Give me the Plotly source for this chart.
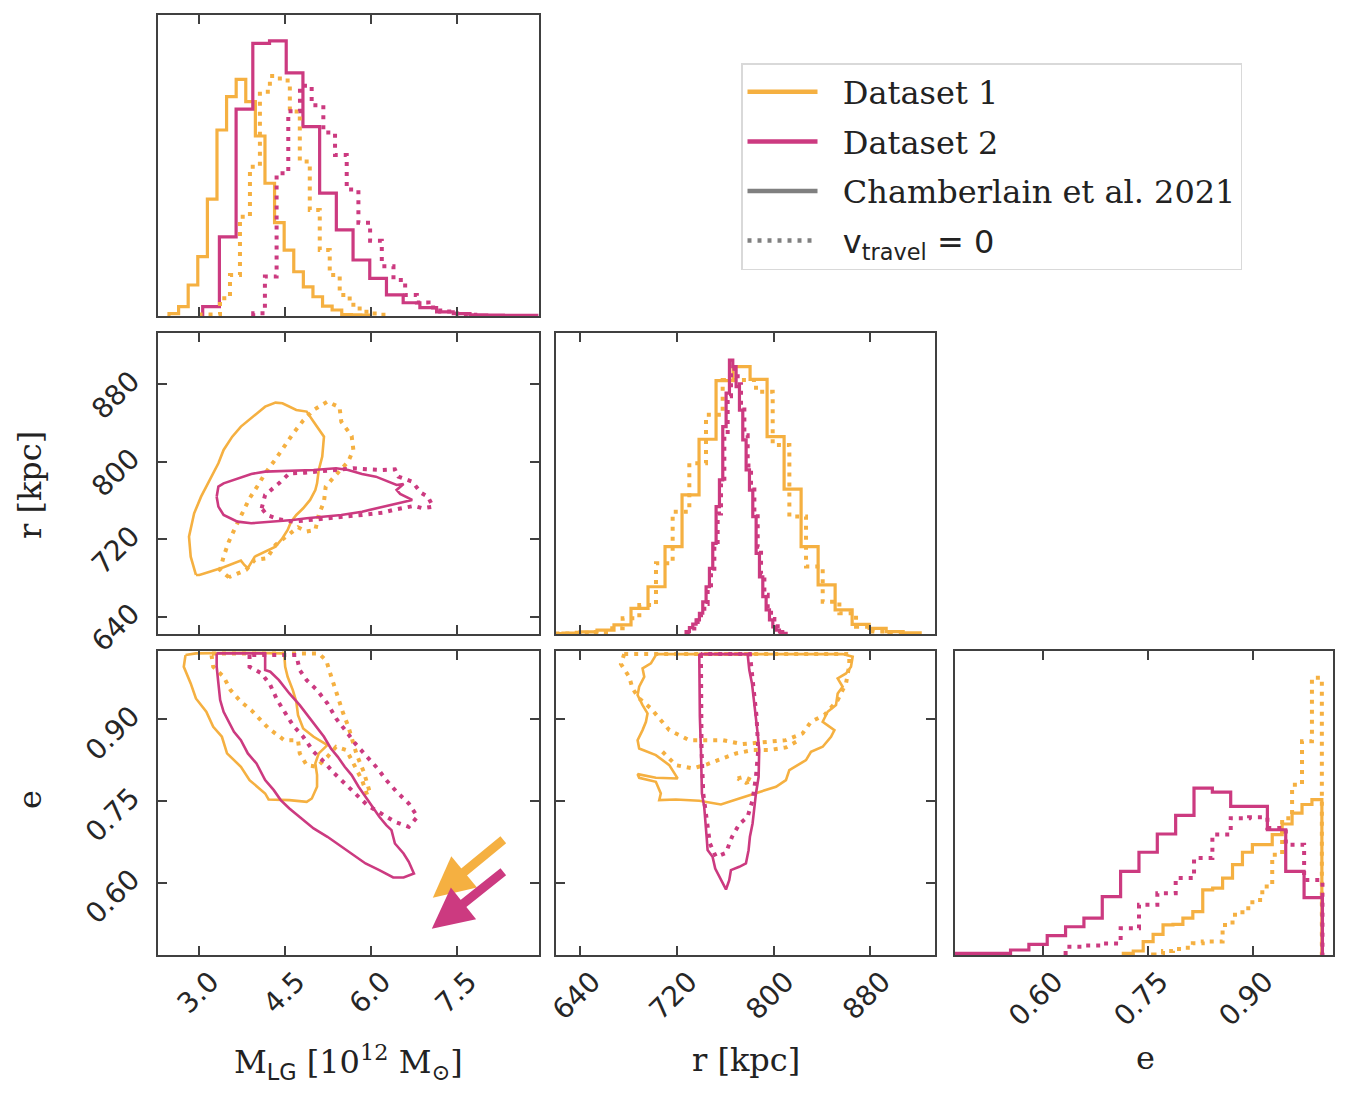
import plotly.graph_objects as go

ORANGE = "#f5b041"
PINK = "#cc3a80"
GREY = "#808080"
FRAME = "#404040"
DOTS = "4px,6px"

# ---------------- tick labels ----------------
m_ticks = [3.0, 4.5, 6.0, 7.5]
m_tick_text = ["3.0", "4.5", "6.0", "7.5"]
r_ticks = [640, 720, 800, 880]
r_tick_text = ["640", "720", "800", "880"]
e_ticks = [0.60, 0.75, 0.90]
e_tick_text = ["0.60", "0.75", "0.90"]

# ---------------- 1D histograms (start edge, bin width, heights) ----------------
m_ds1_start, m_ds1_width = 2.482, 0.1675
m_ds1 = [0.008, 0.031, 0.103, 0.197, 0.388, 0.618, 0.729, 0.786, 0.712, 0.598, 0.441,
         0.310, 0.219, 0.147, 0.097, 0.064, 0.033, 0.020, 0.005, 0.004, 0.003]
m_ds2_start, m_ds2_width = 3.070, 0.2916
m_ds2 = [0.031, 0.263, 0.687, 0.906, 0.914, 0.808, 0.629, 0.408, 0.286, 0.186, 0.125,
         0.070, 0.044, 0.028, 0.014, 0.008, 0.004, 0.003, 0.002, 0.002]
m_ds1_v0_start, m_ds1_v0_width = 3.024, 0.1741
m_ds1_v0 = [0.005, 0.005, 0.059, 0.136, 0.330, 0.496, 0.745, 0.797, 0.782, 0.679, 0.513,
            0.352, 0.219, 0.136, 0.070, 0.037, 0.014, 0.008, 0.004]
m_ds2_v0_start, m_ds2_v0_width = 3.952, 0.204
m_ds2_v0 = [0.009, 0.131, 0.474, 0.680, 0.765, 0.700, 0.610, 0.535, 0.420, 0.310, 0.250,
            0.165, 0.120, 0.070, 0.045, 0.028, 0.015, 0.008, 0.004]

r_ds1_start, r_ds1_width = 611.7, 14.07
r_ds1 = [0.001, 0.003, 0.007, 0.013, 0.030, 0.085, 0.157, 0.290, 0.462, 0.647, 0.842,
         0.888, 0.846, 0.656, 0.481, 0.290, 0.163, 0.080, 0.032, 0.019, 0.008, 0.004]
r_ds1_v0_start, r_ds1_v0_width = 619.97, 13.79
r_ds1_v0 = [0.002, 0.004, 0.007, 0.019, 0.052, 0.096, 0.235, 0.406, 0.567, 0.728, 0.844,
            0.844, 0.805, 0.628, 0.390, 0.224, 0.107, 0.069, 0.024, 0.008, 0.003]
r_ds2_start, r_ds2_width = 727.6, 2.759
r_ds2 = [0.008, 0.021, 0.033, 0.047, 0.069, 0.107, 0.157, 0.218, 0.301, 0.423, 0.512,
         0.689, 0.800, 0.910, 0.888, 0.822, 0.744, 0.645, 0.545, 0.478, 0.390, 0.268,
         0.190, 0.124, 0.080, 0.047, 0.024, 0.013, 0.007, 0.002]
r_ds2_v0_start, r_ds2_v0_width = 728.9, 2.759
r_ds2_v0 = [0.006, 0.018, 0.030, 0.045, 0.066, 0.100, 0.150, 0.210, 0.290, 0.400, 0.500,
            0.660, 0.790, 0.870, 0.880, 0.830, 0.760, 0.660, 0.560, 0.490, 0.400, 0.290,
            0.200, 0.130, 0.085, 0.050, 0.026, 0.014, 0.007, 0.002]

e_ds1_start, e_ds1_width = 0.715, 0.01417
e_ds1 = [0.0055, 0.0132, 0.044, 0.068, 0.099, 0.101, 0.121, 0.143, 0.214, 0.220, 0.253,
         0.297, 0.338, 0.363, 0.363, 0.396, 0.431, 0.467, 0.495, 0.511]
e_ds1_v0_start, e_ds1_v0_width = 0.7575, 0.01417
e_ds1_v0 = [0.002, 0.013, 0.020, 0.024, 0.0385, 0.044, 0.044, 0.099, 0.132, 0.154, 0.181,
            0.225, 0.330, 0.450, 0.560, 0.703, 0.912]
e_ds2_start, e_ds2_width = 0.4754, 0.02619
e_ds2 = [0.0055, 0.0055, 0.0055, 0.0165, 0.035, 0.064, 0.093, 0.121, 0.192, 0.275, 0.338,
         0.398, 0.459, 0.549, 0.536, 0.489, 0.489, 0.412, 0.275, 0.189]
e_ds2_v0_start, e_ds2_v0_width = 0.6326, 0.02619
e_ds2_v0 = [0.027, 0.031, 0.038, 0.088, 0.165, 0.203, 0.253, 0.319, 0.396, 0.450, 0.453,
            0.418, 0.363, 0.247]

# ---------------- 2D contours ----------------
mr_ds1_m = [2.952, 2.861, 2.831, 2.921, 3.042, 3.193, 3.344, 3.435, 3.586, 3.737, 3.979, 4.160,
            4.341, 4.462, 4.704, 4.885, 5.006, 5.187, 5.157, 5.096, 5.066, 5.036, 4.945, 4.824,
            4.704, 4.613, 4.553, 4.462, 4.341, 4.160, 3.979, 3.858, 3.797, 3.737, 3.616, 3.435,
            3.193, 3.012]
mr_ds1_r = [683.0, 701.9, 722.6, 746.7, 763.9, 781.2, 798.4, 812.2, 825.9, 836.3, 848.3, 856.9,
            861.1, 860.4, 853.5, 851.8, 841.4, 825.9, 805.3, 791.5, 777.7, 770.8, 760.5, 751.9,
            745.0, 738.1, 729.5, 720.9, 712.3, 707.1, 701.9, 689.9, 693.3, 697.8, 695.1, 690.9,
            686.4, 683.0]
mr_ds1_v0_m = [3.526, 3.375, 3.435, 3.526, 3.646, 3.767, 3.888, 4.039, 4.160, 4.341, 4.492, 4.643,
               4.824, 5.006, 5.247, 5.459, 5.489, 5.670, 5.700, 5.610, 5.368, 5.217, 5.187, 5.096,
               5.036, 4.885, 4.734, 4.583, 4.341, 4.190, 3.979, 3.828]
mr_ds1_v0_r = [680.6, 688.2, 702.0, 717.4, 732.9, 746.7, 762.2, 776.0, 788.0, 802.5, 815.6, 828.7,
               842.5, 853.5, 862.1, 856.2, 841.4, 826.6, 812.2, 800.1, 784.6, 774.3, 758.8, 745.0,
               729.5, 727.8, 732.3, 725.4, 714.0, 700.2, 698.5, 688.2]
mr_ds2_m = [3.314, 3.344, 3.435, 3.677, 3.918, 4.160, 4.583, 5.006, 5.398, 5.610, 5.851, 6.093,
            6.455, 6.576, 6.455, 6.516, 6.727, 6.516, 6.214, 5.851, 5.489, 5.126, 4.885, 4.643,
            4.281, 3.918, 3.677, 3.435, 3.344]
mr_ds2_r = [763.9, 774.3, 777.7, 782.9, 787.4, 789.8, 790.8, 791.5, 793.2, 791.5, 787.4, 784.6,
            776.0, 777.0, 770.8, 766.7, 760.5, 757.7, 753.6, 748.4, 745.0, 743.3, 741.6, 739.8,
            738.1, 736.4, 738.1, 745.0, 753.6]
mr_ds2_v0_m = [4.099, 4.160, 4.401, 4.583, 4.855, 5.096, 5.428, 5.700, 5.972, 6.214, 6.425, 6.486,
               6.727, 6.878, 6.999, 7.090, 6.909, 6.757, 6.395, 6.214, 5.851, 5.519, 5.187, 4.885,
               4.643, 4.401, 4.190]
mr_ds2_v0_r = [751.9, 765.7, 777.7, 788.0, 788.7, 789.8, 792.2, 793.2, 792.2, 791.5, 792.2, 784.6,
               779.4, 768.1, 763.9, 753.6, 751.9, 754.3, 750.2, 747.4, 745.0, 743.3, 741.6, 739.8,
               738.1, 740.5, 745.0]

me_ds1_m = [2.770, 2.740, 2.861, 2.952, 3.133, 3.254, 3.405, 3.495, 3.737, 3.888, 4.160, 4.220,
            4.583, 4.885, 4.975, 5.066, 5.066, 5.036, 5.096, 5.247, 5.006, 4.824, 4.734, 4.704,
            4.643, 4.553, 4.510, 4.492, 3.797, 2.952]
me_ds1_e = [1.0175, 0.9961, 0.9655, 0.9379, 0.9135, 0.8859, 0.8676, 0.8370, 0.8125, 0.7880,
            0.7635, 0.7525, 0.7513, 0.7482, 0.7543, 0.7758, 0.7972, 0.8186, 0.8370, 0.8523,
            0.8676, 0.8829, 0.9073, 0.9318, 0.9532, 0.9777, 0.9961, 1.0206, 1.0218, 1.0206]
me_ds1_v0_m = [3.224, 3.254, 3.435, 3.556, 3.737, 3.918, 4.220, 4.492, 4.734, 4.764, 4.885, 5.066,
               5.247, 5.398, 5.580, 5.731, 5.851, 5.942, 5.984, 5.881, 5.761, 5.682, 5.610, 5.519,
               5.441, 5.356, 5.296, 5.229, 5.096, 3.224]
me_ds1_v0_e = [1.0175, 0.9961, 0.9777, 0.9532, 0.9318, 0.9165, 0.8829, 0.8614, 0.8614, 0.8370,
               0.8155, 0.8125, 0.8308, 0.8492, 0.8431, 0.8125, 0.7880, 0.7605, 0.7666, 0.8033,
               0.8339, 0.8614, 0.8871, 0.9116, 0.9361, 0.9606, 0.9838, 1.0071, 1.0206, 1.0206]
me_ds2_m = [3.314, 3.314, 3.344, 3.375, 3.435, 3.526, 3.616, 3.737, 3.858, 4.009, 4.160, 4.311,
            4.432, 4.583, 4.824, 5.006, 5.247, 5.459, 5.670, 5.912, 6.153, 6.395, 6.576, 6.757,
            6.667, 6.576, 6.425, 6.365, 6.274, 6.153, 6.033, 5.912, 5.791, 5.670, 5.549, 5.428,
            5.308, 5.187, 5.006, 4.885, 4.764, 4.583, 4.401, 4.250, 4.160, 4.160]
me_ds2_e = [1.0206, 0.9961, 0.9655, 0.9349, 0.9135, 0.8951, 0.8767, 0.8614, 0.8370, 0.8186,
            0.7880, 0.7696, 0.7513, 0.7360, 0.7146, 0.6993, 0.6840, 0.6687, 0.6534, 0.6350,
            0.6228, 0.6093, 0.6093, 0.6166, 0.6381, 0.6534, 0.6717, 0.6962, 0.7054, 0.7207,
            0.7390, 0.7574, 0.7758, 0.7972, 0.8125, 0.8308, 0.8461, 0.8676, 0.8920, 0.9104,
            0.9257, 0.9471, 0.9716, 0.9869, 0.9900, 1.0206]
me_ds2_v0_m = [3.888, 3.888, 4.099, 4.250, 4.371, 4.492, 4.643, 4.824, 5.006, 5.187, 5.368, 5.549,
               5.731, 5.942, 6.184, 6.425, 6.667, 6.818, 6.667, 6.455, 6.274, 6.123, 5.912, 5.731,
               5.580, 5.398, 5.247, 5.066, 4.885, 4.764, 4.704]
me_ds2_v0_e = [1.0175, 0.9961, 0.9838, 0.9624, 0.9349, 0.9135, 0.8890, 0.8676, 0.8400, 0.8217,
               0.8002, 0.7819, 0.7635, 0.7421, 0.7268, 0.7115, 0.7023, 0.7207, 0.7452, 0.7666,
               0.7880, 0.8094, 0.8339, 0.8553, 0.8767, 0.9012, 0.9288, 0.9532, 0.9716, 0.9900,
               1.0175]

re_ds1_r = [702.6, 698.5, 691.6, 693.0, 688.8, 687.5, 691.6, 695.7, 694.4, 691.6, 687.5, 688.8,
            702.6, 713.7, 720.6, 702.6, 687.5, 688.8, 702.6, 706.7, 705.4, 719.2, 738.5, 756.4,
            771.6, 788.2, 802.0, 810.2, 813.0, 826.8, 830.9, 840.6, 847.5, 850.3, 840.6, 844.7,
            851.6, 853.0, 857.1, 853.0, 859.9, 864.0, 865.4, 857.1, 702.6]
re_ds1_e = [1.0175, 1.0022, 0.9930, 0.9777, 0.9594, 0.9441, 0.9257, 0.9104, 0.8951, 0.8798,
            0.8614, 0.8461, 0.8339, 0.8155, 0.7911, 0.7923, 0.7990, 0.7923, 0.7849, 0.7635,
            0.7513, 0.7525, 0.7501, 0.7433, 0.7543, 0.7666, 0.7758, 0.7880, 0.8064, 0.8247,
            0.8400, 0.8492, 0.8676, 0.8798, 0.8951, 0.9135, 0.9257, 0.9471, 0.9594, 0.9747,
            0.9838, 0.9961, 1.0144, 1.0193, 1.0193]
re_ds1_v0_r = [676.4, 862.6, 862.6, 861.3, 859.9, 853.0, 842.0, 830.9, 824.0, 810.2, 796.4, 774.4,
               757.8, 730.2, 713.7, 698.5, 688.8, 683.3, 680.5, 673.7, 676.4]
re_ds1_v0_e = [1.0193, 1.0193, 0.9991, 0.9808, 0.9655, 0.9349, 0.9073, 0.8951, 0.8737, 0.8614,
               0.8584, 0.8541, 0.8614, 0.8614, 0.8798, 0.9196, 0.9379, 0.9563, 0.9777, 1.0010,
               1.0193]
re_ds1_v0_lobe_r = [708.1, 713.7, 719.2, 733.0, 745.4, 757.8, 768.9, 782.7, 796.4, 810.2, 821.2]
re_ds1_v0_lobe_e = [0.8400, 0.8278, 0.8155, 0.8094, 0.8174, 0.8278, 0.8370, 0.8431, 0.8431,
                    0.8480, 0.8614]
re_ds1_v0_spot_r = [770.2, 775.7, 782.6, 777.1, 770.2]
re_ds1_v0_spot_e = [0.7911, 0.7941, 0.7868, 0.7831, 0.7911]
re_ds2_r = [738.5, 738.5, 739.0, 739.9, 740.7, 742.6, 744.0, 744.6, 745.4, 749.5, 751.7, 756.4,
            760.6, 763.3, 764.7, 771.6, 777.1, 779.3, 780.4, 782.6, 784.0, 785.4, 787.6, 788.1,
            786.8, 785.4, 784.0, 782.1, 779.9, 778.5]
re_ds2_e = [1.0193, 0.9655, 0.9043, 0.8431, 0.7635, 0.7390, 0.7084, 0.6840, 0.6595, 0.6472,
            0.6258, 0.6044, 0.5873, 0.6044, 0.6228, 0.6289, 0.6350, 0.6595, 0.6840, 0.7084,
            0.7390, 0.7635, 0.7941, 0.8431, 0.8737, 0.9043, 0.9349, 0.9655, 0.9900, 1.0193]
re_ds2_v0_r = [739.9, 739.9, 740.4, 741.8, 744.6, 747.3, 752.3, 760.6, 765.6, 771.6, 778.5, 782.6,
               785.4, 787.3, 785.9, 783.2, 780.4]
re_ds2_v0_e = [1.0193, 0.9349, 0.8431, 0.7635, 0.7207, 0.6717, 0.6472, 0.6546, 0.6840, 0.7072,
               0.7207, 0.7513, 0.7941, 0.8431, 0.9043, 0.9655, 1.0193]

arrow_ds1 = dict(m=7.087, e=0.5723, m_tail=8.343, e_tail=0.6809)
arrow_ds2 = dict(m=7.069, e=0.5153, m_tail=8.343, e_tail=0.6220)

# ---------------- figure ----------------
W, H = 1348, 1100
OFF = 8  # page offset of the plot div inside the browser window
fig = go.Figure()


def step_xy(start, width, heights):
    edges = [start + i * width for i in range(len(heights) + 1)]
    xs = [edges[0]] + edges[:-1] + [edges[-1]]
    ys = [0] + list(heights) + [0]
    return xs, ys


def add_hist(start, width, heights, color, dotted, xa, ya):
    xs, ys = step_xy(start, width, heights)
    fig.add_trace(go.Scatter(x=xs, y=ys, mode="lines", line_shape="hv",
                             line=dict(color=color, width=3.2 if not dotted else 4,
                                       dash=DOTS if dotted else "solid"),
                             xaxis=xa, yaxis=ya, showlegend=False, hoverinfo="skip"))


def add_line(xs, ys, color, dotted, xa, ya, close=True):
    xs = list(xs)
    ys = list(ys)
    if close:
        xs = xs + [xs[0]]
        ys = ys + [ys[0]]
    fig.add_trace(go.Scatter(x=xs, y=ys, mode="lines",
                             line=dict(color=color, width=2.6 if not dotted else 4,
                                       dash=DOTS if dotted else "solid"),
                             xaxis=xa, yaxis=ya, showlegend=False, hoverinfo="skip"))


add_hist(m_ds1_start, m_ds1_width, m_ds1, ORANGE, False, "x", "y")
add_hist(m_ds2_start, m_ds2_width, m_ds2, PINK, False, "x", "y")
add_hist(m_ds1_v0_start, m_ds1_v0_width, m_ds1_v0, ORANGE, True, "x", "y")
add_hist(m_ds2_v0_start, m_ds2_v0_width, m_ds2_v0, PINK, True, "x", "y")

add_line(mr_ds1_m, mr_ds1_r, ORANGE, False, "x2", "y2")
add_line(mr_ds1_v0_m, mr_ds1_v0_r, ORANGE, True, "x2", "y2")
add_line(mr_ds2_m, mr_ds2_r, PINK, False, "x2", "y2")
add_line(mr_ds2_v0_m, mr_ds2_v0_r, PINK, True, "x2", "y2")

add_hist(r_ds1_start, r_ds1_width, r_ds1, ORANGE, False, "x3", "y3")
add_hist(r_ds1_v0_start, r_ds1_v0_width, r_ds1_v0, ORANGE, True, "x3", "y3")
add_hist(r_ds2_start, r_ds2_width, r_ds2, PINK, False, "x3", "y3")
add_hist(r_ds2_v0_start, r_ds2_v0_width, r_ds2_v0, PINK, True, "x3", "y3")

add_line(me_ds1_m, me_ds1_e, ORANGE, False, "x4", "y4")
add_line(me_ds1_v0_m, me_ds1_v0_e, ORANGE, True, "x4", "y4")
add_line(me_ds2_m, me_ds2_e, PINK, False, "x4", "y4")
add_line(me_ds2_v0_m, me_ds2_v0_e, PINK, True, "x4", "y4")

add_line(re_ds1_r, re_ds1_e, ORANGE, False, "x5", "y5")
add_line(re_ds1_v0_r, re_ds1_v0_e, ORANGE, True, "x5", "y5")
add_line(re_ds1_v0_lobe_r, re_ds1_v0_lobe_e, ORANGE, True, "x5", "y5", close=False)
add_line(re_ds1_v0_spot_r, re_ds1_v0_spot_e, ORANGE, True, "x5", "y5", close=False)
add_line(re_ds2_r, re_ds2_e, PINK, False, "x5", "y5")
add_line(re_ds2_v0_r, re_ds2_v0_e, PINK, True, "x5", "y5")

add_hist(e_ds1_start, e_ds1_width, e_ds1, ORANGE, False, "x6", "y6")
add_hist(e_ds1_v0_start, e_ds1_v0_width, e_ds1_v0, ORANGE, True, "x6", "y6")
add_hist(e_ds2_start, e_ds2_width, e_ds2, PINK, False, "x6", "y6")
add_hist(e_ds2_v0_start, e_ds2_v0_width, e_ds2_v0, PINK, True, "x6", "y6")

NB = "\u00a0\u00a0"
legend_items = [(NB + "Dataset 1", ORANGE, "solid"),
                (NB + "Dataset 2", PINK, "solid"),
                (NB + "Chamberlain et al. 2021", GREY, "solid"),
                (NB + "<span style='font-family:DejaVu Sans'>v<sub>travel</sub> = 0</span>", GREY, DOTS)]
for i, (name, col, dash) in enumerate(legend_items):
    fig.add_trace(go.Scatter(x=[None], y=[None], mode="lines", name=name,
                             line=dict(color=col, width=4.5, dash=dash),
                             xaxis="x6", yaxis="y6", legendgroup=f"g{i}", showlegend=True))


# ---------------- axes ----------------
def px_dom_x(a, b):
    return [(a - OFF) / W, (b - OFF) / W]


def px_dom_y(top, bottom):
    return [1 - (bottom - OFF) / H, 1 - (top - OFF) / H]


def px_x(p):
    return (p - OFF) / W


def px_y(p):
    return 1 - (p - OFF) / H


COL = [px_dom_x(158, 539), px_dom_x(556, 935), px_dom_x(955, 1333)]
ROW = [px_dom_y(15, 316), px_dom_y(333, 634), px_dom_y(651, 955)]

M_RANGE = [2.29, 8.94]
R_RANGE_X = [620, 933.5]
R_RANGE_Y = [622, 933]
E_RANGE_X = [0.4747, 1.0143]
E_RANGE_Y = [0.467, 1.025]

TICKFONT = dict(family="DejaVu Sans", size=28, color="#262626")


def axis(domain, rng, anchor, tickvals=None, ticktext=None, labels=False, ticks=True, kind="x"):
    d = dict(domain=domain, range=rng, anchor=anchor, showline=True, linecolor=FRAME,
             linewidth=2, showgrid=False, zeroline=False, tickfont=TICKFONT, tickangle=-45,
             fixedrange=True, automargin=False)
    if ticks and tickvals is not None:
        d.update(tickmode="array", tickvals=tickvals, ticktext=ticktext, ticks="inside",
                 ticklen=9, tickwidth=1.5, tickcolor=FRAME, mirror="ticks",
                 showticklabels=labels)
        if labels:
            if kind == "x":
                d.update(ticklabelshift=12, ticklabelstandoff=-3)
            else:
                d.update(ticklabelshift=-7, ticklabelstandoff=19)
    else:
        d.update(ticks="", mirror=True, showticklabels=False)
    return d


layout_axes = dict(
    xaxis=axis(COL[0], M_RANGE, "y", m_ticks, m_tick_text, labels=False),
    yaxis=axis(ROW[0], [0, 1.0], "x", ticks=False),
    xaxis2=axis(COL[0], M_RANGE, "y2", m_ticks, m_tick_text, labels=False),
    yaxis2=axis(ROW[1], R_RANGE_Y, "x2", r_ticks, r_tick_text, labels=True, kind="y"),
    xaxis3=axis(COL[1], R_RANGE_X, "y3", r_ticks, r_tick_text, labels=False),
    yaxis3=axis(ROW[1], [0, 1.0], "x3", ticks=False),
    xaxis4=axis(COL[0], M_RANGE, "y4", m_ticks, m_tick_text, labels=True),
    yaxis4=axis(ROW[2], E_RANGE_Y, "x4", e_ticks, e_tick_text, labels=True, kind="y"),
    xaxis5=axis(COL[1], R_RANGE_X, "y5", r_ticks, r_tick_text, labels=True),
    yaxis5=axis(ROW[2], E_RANGE_Y, "x5", e_ticks, e_tick_text, labels=False, kind="y"),
    xaxis6=axis(COL[2], E_RANGE_X, "y6", e_ticks, e_tick_text, labels=True),
    yaxis6=axis(ROW[2], [0, 1.0], "x6", ticks=False),
)

TITLEFONT = dict(family="DejaVu Serif", size=32, color="#222222")


def title_ann(text, xp, yp, angle=0):
    return dict(text=text, x=px_x(xp), y=px_y(yp), xref="paper", yref="paper",
                xanchor="center", yanchor="middle", showarrow=False, font=TITLEFONT,
                textangle=angle)


annotations = [
    title_ann("M<sub><span style='font-family:DejaVu Sans'>LG</span></sub> [10<sup>12</sup> M<sub>\u2299</sub>]",
              348, 1062),
    title_ann("r [kpc]", 746, 1060),
    title_ann("e", 1145, 1058),
    title_ann("r [kpc]", 30, 485, -90),
    title_ann("e", 30, 800, -90),
]
for arr, col in ((arrow_ds1, ORANGE), (arrow_ds2, PINK)):
    annotations.append(dict(x=arr["m"], y=arr["e"], ax=arr["m_tail"], ay=arr["e_tail"],
                            xref="x4", yref="y4", axref="x4", ayref="y4", text="",
                            showarrow=True, arrowhead=2, arrowsize=0.9, arrowwidth=9,
                            arrowcolor=col))

fig.update_layout(
    width=W, height=H, margin=dict(l=0, r=0, t=0, b=0, pad=0, autoexpand=False),
    paper_bgcolor="white", plot_bgcolor="white",
    showlegend=True,
    legend=dict(x=px_x(741), y=px_y(63), xanchor="left", yanchor="top",
                bgcolor="white", bordercolor="#d9d9d9", borderwidth=1.5,
                font=dict(family="DejaVu Serif", size=32, color="#222222"),
                itemwidth=70, traceorder="grouped", tracegroupgap=5),
    annotations=annotations,
    **layout_axes,
)

fig.write_html("out.html")
